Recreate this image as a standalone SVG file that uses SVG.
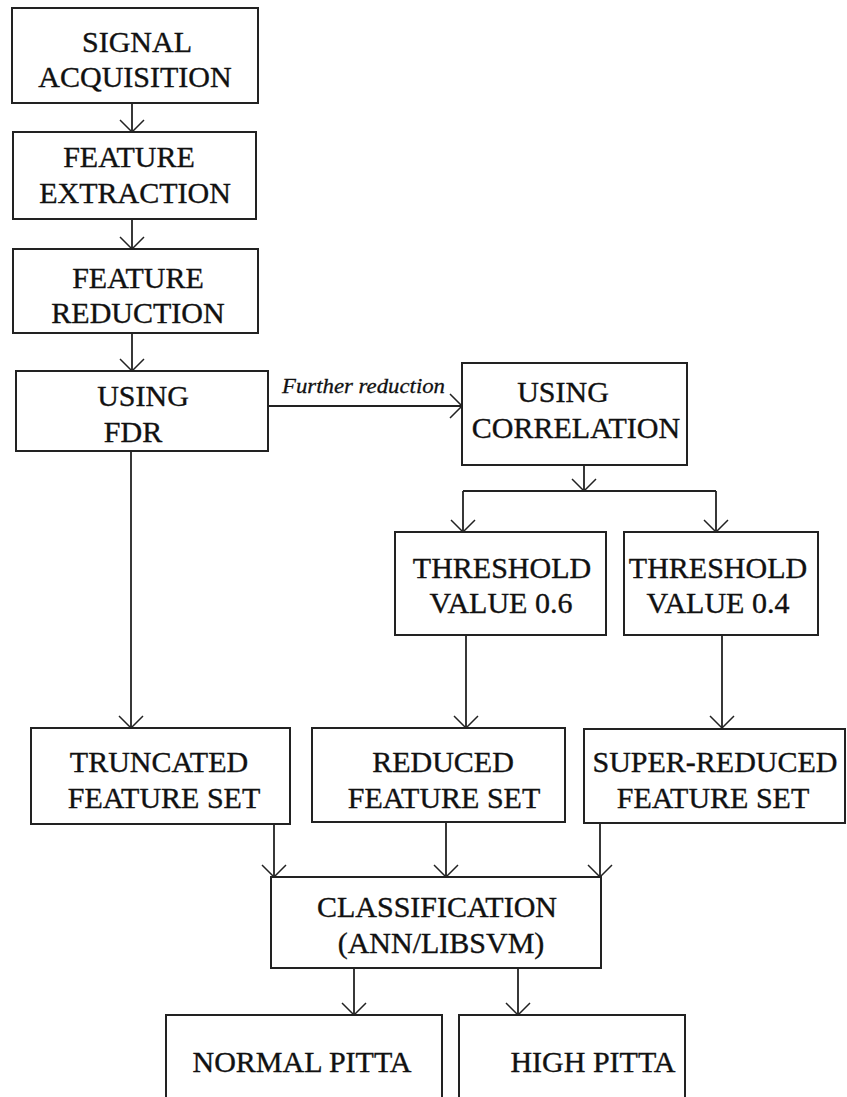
<svg xmlns="http://www.w3.org/2000/svg" width="847" height="1097" viewBox="0 0 847 1097">
<defs>
<marker id="arr" viewBox="-14 -14 16 28" markerWidth="16" markerHeight="28" refX="0" refY="0" orient="auto" markerUnits="userSpaceOnUse">
<path d="M-12,-12 L0,0 L-12,12" fill="none" stroke="#222" stroke-width="1.5"/>
</marker>
<style>
.box{fill:#fff;stroke:#222;stroke-width:2}
.t{font-family:"Liberation Serif","Times New Roman",serif;font-size:30px;fill:#111;stroke:#111;stroke-width:0.35;text-anchor:middle}
.i{font-family:"Liberation Serif","Times New Roman",serif;font-size:22px;font-style:italic;fill:#111;stroke:#111;stroke-width:0.3}
.c{fill:none;stroke:#222;stroke-width:1.8}
.a{marker-end:url(#arr)}
</style>
</defs>
<rect width="847" height="1097" fill="#fff"/>
<g id="connectors">
<line class="c a" x1="132" y1="103" x2="132" y2="132"/>
<line class="c a" x1="132" y1="219" x2="132" y2="249"/>
<line class="c a" x1="132" y1="333" x2="132" y2="371"/>
<line class="c a" x1="268" y1="406" x2="462" y2="406"/>
<line class="c a" x1="584" y1="465" x2="584" y2="491"/>
<line class="c" x1="463" y1="491" x2="716" y2="491"/>
<line class="c a" x1="463" y1="491" x2="463" y2="532"/>
<line class="c a" x1="716" y1="491" x2="716" y2="532"/>
<line class="c a" x1="131" y1="451" x2="131" y2="728"/>
<line class="c a" x1="466" y1="635" x2="466" y2="728"/>
<line class="c a" x1="722" y1="635" x2="722" y2="728"/>
<line class="c a" x1="274" y1="824" x2="274" y2="877"/>
<line class="c a" x1="446" y1="822" x2="446" y2="877"/>
<line class="c a" x1="600" y1="823" x2="600" y2="877"/>
<line class="c a" x1="354" y1="968" x2="354" y2="1015"/>
<line class="c a" x1="518" y1="968" x2="518" y2="1015"/>
<text class="i" x="282" y="393" textLength="163" lengthAdjust="spacingAndGlyphs">Further reduction</text>
</g>
<g id="signal">
<rect class="box" x="12" y="8" width="246" height="95"/>
<text class="t" x="137" y="52">SIGNAL</text>
<text class="t" x="135" y="87">ACQUISITION</text>
</g>
<g id="extraction">
<rect class="box" x="13" y="132" width="243" height="87"/>
<text class="t" x="129" y="167">FEATURE</text>
<text class="t" x="135" y="203">EXTRACTION</text>
</g>
<g id="reduction">
<rect class="box" x="13" y="249" width="245" height="84"/>
<text class="t" x="138" y="288">FEATURE</text>
<text class="t" x="138" y="323">REDUCTION</text>
</g>
<g id="fdr">
<rect class="box" x="16" y="371" width="252" height="80"/>
<text class="t" x="143" y="406">USING</text>
<text class="t" x="133" y="442">FDR</text>
</g>
<g id="correlation">
<rect class="box" x="462" y="363" width="225" height="102"/>
<text class="t" x="563" y="402">USING</text>
<text class="t" x="576" y="438">CORRELATION</text>
</g>
<g id="th06">
<rect class="box" x="395" y="532" width="211" height="103"/>
<text class="t" x="502" y="578">THRESHOLD</text>
<text class="t" x="501" y="613">VALUE 0.6</text>
</g>
<g id="th04">
<rect class="box" x="624" y="532" width="194" height="103"/>
<text class="t" x="718" y="578">THRESHOLD</text>
<text class="t" x="718" y="613">VALUE 0.4</text>
</g>
<g id="truncated">
<rect class="box" x="31" y="728" width="259" height="96"/>
<text class="t" x="159" y="772">TRUNCATED</text>
<text class="t" x="164" y="808">FEATURE SET</text>
</g>
<g id="reduced">
<rect class="box" x="312" y="728" width="253" height="94"/>
<text class="t" x="443" y="772">REDUCED</text>
<text class="t" x="444" y="808">FEATURE SET</text>
</g>
<g id="superreduced">
<rect class="box" x="584" y="729" width="261" height="94"/>
<text class="t" x="715" y="772">SUPER-REDUCED</text>
<text class="t" x="713" y="808">FEATURE SET</text>
</g>
<g id="classification">
<rect class="box" x="271" y="877" width="330" height="91"/>
<text class="t" x="437" y="917">CLASSIFICATION</text>
<text class="t" x="441" y="953">(ANN/LIBSVM)</text>
</g>
<g id="normal">
<rect class="box" x="166" y="1015" width="276" height="100"/>
<text class="t" x="302" y="1072">NORMAL PITTA</text>
</g>
<g id="high">
<rect class="box" x="459" y="1015" width="226" height="100"/>
<text class="t" x="593" y="1072">HIGH PITTA</text>
</g>
</svg>
